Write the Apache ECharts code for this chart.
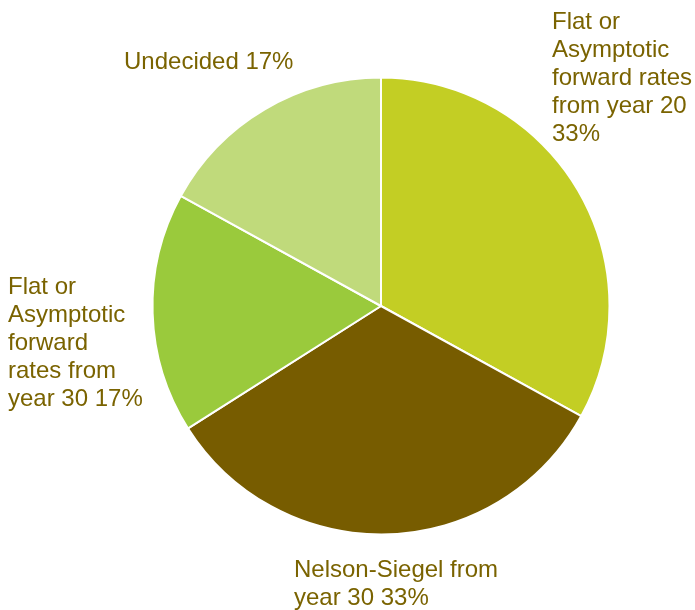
<!DOCTYPE html>
<html>
<head>
<meta charset="utf-8">
<script src="https://cdn.jsdelivr.net/npm/echarts@6/dist/echarts.min.js"></script>
<style>
  html, body { margin: 0; padding: 0; background: #fff; }
  #chart { width: 695px; height: 610px; }
</style>
</head>
<body>
<div id="chart"></div>
<script>
// Survey answers: extrapolation method preferred
const categories = [
  'Flat or\nAsymptotic\nforward rates\nfrom year 20',
  'Nelson-Siegel from\nyear 30',
  'Flat or\nAsymptotic\nforward\nrates from\nyear 30',
  'Undecided'
];
const shares = [33, 33, 17, 17];
const sliceColors = ['#C3CE24', '#775C00', '#9ACA3C', '#C0DA7B'];
// text placed before the percentage (new line for the first answer)
const joiners = ['\n', ' ', ' ', ' '];

// label anchor boxes (top-left corner of each label block)
const labelSpots = [
  { x: 552, y: 8 },
  { x: 294, y: 556 },
  { x: 8, y: 273 },
  { x: 124, y: 48 }
];

const chart = echarts.init(document.getElementById('chart'), null, { renderer: 'canvas' });

chart.setOption({
  animation: false,
  backgroundColor: '#ffffff',
  series: [{
    type: 'pie',
    center: [381, 306],
    radius: [0, 228.5],
    startAngle: 90,
    clockwise: true,
    avoidLabelOverlap: false,
    itemStyle: { borderColor: '#ffffff', borderWidth: 2 },
    label: {
      show: true,
      position: 'outside',
      color: '#7A6300',
      fontFamily: 'Liberation Sans, Arial, sans-serif',
      fontSize: 24,
      lineHeight: 28,
      align: 'left',
      formatter: p => p.name + joiners[p.dataIndex] + p.value + '%'
    },
    labelLine: { show: false },
    labelLayout: params => ({
      x: labelSpots[params.dataIndex].x,
      y: labelSpots[params.dataIndex].y,
      align: 'left',
      verticalAlign: 'top',
      moveOverlap: null
    }),
    data: categories.map((name, i) => ({
      name: name,
      value: shares[i],
      itemStyle: { color: sliceColors[i] }
    }))
  }]
});
</script>
</body>
</html>
